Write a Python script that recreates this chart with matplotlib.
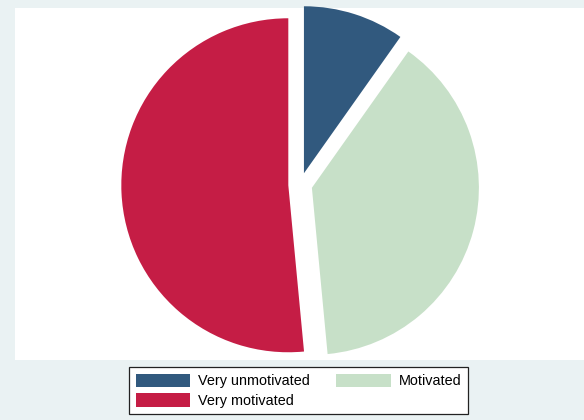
import matplotlib.pyplot as plt

plt.rcParams['font.family'] = ['Liberation Sans', 'DejaVu Sans']

# share of respondents in each motivation group (%)
labels = ["Very unmotivated", "Motivated", "Very motivated"]
shares = [9.8, 38.7, 51.5]
colors = ["#31597e", "#c7e0c8", "#c51d45"]

W, H = 584, 420
fig = plt.figure(figsize=(W / 100, H / 100), dpi=100)
fig.patch.set_facecolor("#eaf2f3")

# white plot region
bg = fig.add_axes([15 / W, 1 - 360 / H, 1 - 15 / W, (360 - 8) / H], zorder=0)
bg.set_facecolor("white")
bg.set_xticks([])
bg.set_yticks([])
for s in bg.spines.values():
    s.set_visible(False)

# pie axes: centre (300,185) px, radius 167 px
cx, cy, half, R = 300.3, 184.7, 185, 167
ax = fig.add_axes([(cx - half) / W, 1 - (cy + half) / H, 2 * half / W, 2 * half / H],
                  zorder=1)
ax.patch.set_alpha(0)

wedges, _ = ax.pie(shares, colors=colors, startangle=90, counterclock=False,
                   explode=[12 / R] * 3, radius=1.0, frame=False,
                   wedgeprops=dict(linewidth=0))
for w in wedges:
    w.set_clip_on(False)
ax.set_xlim(-half / R, half / R)
ax.set_ylim(-half / R, half / R)
ax.axis("off")

# legend, filled row by row
order = [0, 2, 1]
leg = fig.legend([wedges[i] for i in order], [labels[i] for i in order],
                 loc="upper left", bbox_to_anchor=(129 / W, 1 - 367 / H),
                 ncol=2, fontsize=10.4, frameon=True, fancybox=False,
                 framealpha=1, handlelength=3.8, handleheight=1.05,
                 handletextpad=0.55, columnspacing=1.8, labelspacing=0.35,
                 borderpad=0.45, borderaxespad=0)
leg.get_frame().set_edgecolor("#222222")
leg.get_frame().set_linewidth(0.9)

fig.savefig("out.png", dpi=100, facecolor=fig.get_facecolor())
